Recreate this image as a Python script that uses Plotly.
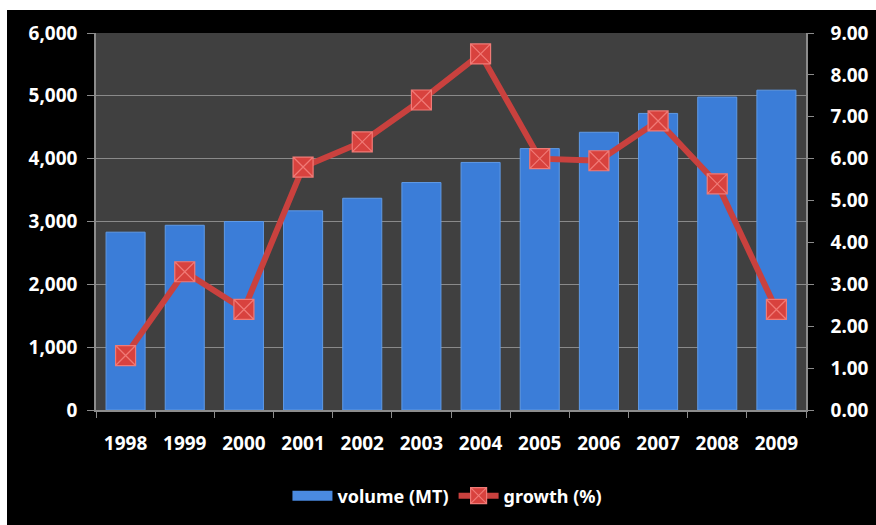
import plotly.graph_objects as go

years = ["1998", "1999", "2000", "2001", "2002", "2003",
         "2004", "2005", "2006", "2007", "2008", "2009"]
volume_mt = [2830, 2940, 3000, 3170, 3370, 3620, 3940, 4160, 4420, 4720, 4980, 5090]
growth_pct = [1.3, 3.3, 2.4, 5.8, 6.4, 7.4, 8.5, 6.0, 5.95, 6.9, 5.4, 2.4]

FONT = "Noto Sans"
AXIS_GREY = "#8c8c8c"
BAR_BLUE = "#3b7dd8"

fig = go.Figure()

fig.add_trace(go.Bar(
    x=years, y=volume_mt, name="volume (MT)",
    marker=dict(color=BAR_BLUE, line=dict(color="#5f9ae6", width=1)),
    yaxis="y", showlegend=False,
))

# wide flat swatch for the volume series in the legend
fig.add_trace(go.Scatter(
    x=[None], y=[None], name="volume (MT)", mode="lines",
    line=dict(color="#4a8ae0", width=11), yaxis="y",
))

fig.add_trace(go.Scatter(
    x=years, y=growth_pct, name="growth (%)",
    mode="lines+markers",
    line=dict(color="#c9413e", width=6),
    marker=dict(symbol="square-x", size=20, color="#d8423e",
                line=dict(color="#f07a76", width=1.2)),
    yaxis="y2",
))

fig.update_layout(
    width=876, height=525,
    margin=dict(l=96, r=70, t=33, b=115, autoexpand=False),
    paper_bgcolor="#000000",
    plot_bgcolor="#404040",
    font=dict(family=FONT, color="#ffffff", size=19, weight="bold"),
    bargap=0.34,
    showlegend=True,
    legend=dict(orientation="h", x=0.495, xanchor="center", y=-0.228, yanchor="middle",
                font=dict(size=18, color="#ffffff", family=FONT, weight="bold"),
                bgcolor="rgba(0,0,0,0)", traceorder="normal", itemwidth=40),
    xaxis=dict(
        type="category", range=[-0.5, 11.5], showgrid=False,
        showline=True, linecolor=AXIS_GREY, linewidth=1.5,
        ticks="outside", tickson="boundaries", ticklen=6, tickcolor=AXIS_GREY,
        tickfont=dict(size=19), ticklabelstandoff=15,
    ),
    yaxis=dict(
        range=[0, 6000], dtick=1000, tickformat=",",
        showgrid=True, gridcolor="#8a8a8a", gridwidth=1.2,
        showline=True, linecolor=AXIS_GREY, linewidth=1.5,
        ticks="outside", ticklen=7, tickcolor=AXIS_GREY,
        tickfont=dict(size=19), zeroline=False, ticklabelstandoff=6,
    ),
    yaxis2=dict(
        range=[0, 9], dtick=1, tickformat=".2f", overlaying="y", side="right",
        showgrid=False, showline=True, linecolor=AXIS_GREY, linewidth=1.5,
        ticks="outside", ticklen=6, tickcolor=AXIS_GREY,
        tickfont=dict(size=19), zeroline=False, ticklabelstandoff=13,
    ),
    shapes=[
        # white frame strips around the black canvas (top and left)
        dict(type="rect", xref="paper", yref="paper", layer="above",
             x0=-0.14, x1=1.10, y0=(410 - 10) / 377, y1=1.2,
             fillcolor="#ffffff", line=dict(width=0)),
        dict(type="rect", xref="paper", yref="paper", layer="above",
             x0=-0.14, x1=(7 - 96) / 710, y0=-0.4, y1=1.2,
             fillcolor="#ffffff", line=dict(width=0)),
    ],
)

fig.write_html("out.html")
